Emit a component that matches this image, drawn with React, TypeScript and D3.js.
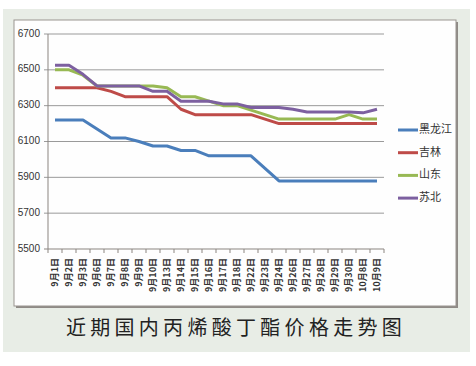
import React from 'react'
import * as d3 from 'd3'

const dates = ['9月1日', '9月2日', '9月3日', '9月6日', '9月7日', '9月8日', '9月9日', '9月10日', '9月13日', '9月14日', '9月15日', '9月16日', '9月17日', '9月18日', '9月22日', '9月23日', '9月24日', '9月26日', '9月27日', '9月28日', '9月29日', '9月30日', '10月8日', '10月9日']

const heilongjiang = [6220, 6220, 6220, 6170, 6120, 6120, 6100, 6075, 6075, 6050, 6050, 6020, 6020, 6020, 6020, 5950, 5880, 5880, 5880, 5880, 5880, 5880, 5880, 5880]
const jilin = [6400, 6400, 6400, 6400, 6380, 6350, 6350, 6350, 6350, 6280, 6250, 6250, 6250, 6250, 6250, 6225, 6200, 6200, 6200, 6200, 6200, 6200, 6200, 6200]
const shandong = [6500, 6500, 6470, 6410, 6410, 6410, 6410, 6410, 6400, 6350, 6350, 6325, 6300, 6300, 6275, 6250, 6225, 6225, 6225, 6225, 6225, 6250, 6225, 6225]
const subei = [6525, 6525, 6475, 6410, 6410, 6410, 6410, 6380, 6380, 6325, 6325, 6325, 6310, 6310, 6290, 6290, 6290, 6280, 6265, 6265, 6265, 6265, 6260, 6280]

const yTicks = [5500, 5700, 5900, 6100, 6300, 6500, 6700]

const series = [
  { name: '黑龙江', values: heilongjiang, color: '#4a7ebb' },
  { name: '吉林', values: jilin, color: '#be4b48' },
  { name: '山东', values: shandong, color: '#98b954' },
  { name: '苏北', values: subei, color: '#7d60a0' },
]

function App() {
  const width = 476
  const height = 366
  const plot = { left: 48, right: 384, top: 34, bottom: 249 }

  const xScale = d3.scaleBand().domain(dates).range([plot.left, plot.right])
  const yScale = d3.scaleLinear().domain([5500, 6700]).range([plot.bottom, plot.top])

  const line = d3
    .line<number>()
    .x((_, i) => xScale(dates[i])! + xScale.bandwidth() / 2)
    .y(d => yScale(d))

  const tickXs = dates.map(d => xScale(d)!).concat([plot.right])

  return (
    <svg width={width} height={height} style={{ position: 'absolute', left: 0, top: 0 }}>
      <rect x={3} y={9} width={467} height={343} fill="#e8ede6" />
      {/* chart frame with shadow on right and bottom */}
      <rect x={16} y={22} width={442} height={286} fill="#8f8a86" />
      <rect x={14} y={20} width={442} height={286} fill="#fefefe" stroke="#9a9590" strokeWidth={1} />

      {/* gridlines and y axis */}
      {yTicks.map(t => (
        <g key={t}>
          <line x1={plot.left - 4} x2={plot.right} y1={yScale(t)} y2={yScale(t)} stroke={t === 5500 ? '#8b8580' : '#9a9a9a'} strokeWidth={1} />
          <text x={40} y={yScale(t)} textAnchor="end" dominantBaseline="middle" fontFamily="'Liberation Sans', Arial, sans-serif" fontSize={10} fill="#333">{t}</text>
        </g>
      ))}
      <line x1={plot.left} x2={plot.left} y1={plot.top} y2={plot.bottom} stroke="#8b8580" strokeWidth={1} />

      {/* x ticks and labels */}
      {tickXs.map((x, i) => (
        <line key={i} x1={x} x2={x} y1={plot.bottom} y2={plot.bottom + 4} stroke="#8b8580" strokeWidth={1} />
      ))}
      {dates.map(d => (
        <text
          key={d}
          transform={`translate(${xScale(d)! + xScale.bandwidth() / 2 + 3} ${plot.bottom + 9}) rotate(-90)`}
          textAnchor="end"
          fontFamily="'Noto Sans CJK SC', sans-serif"
          fontSize={9}
          fontWeight="bold"
          fill="#333"
        >{d}</text>
      ))}

      {/* lines */}
      {series.map(s => (
        <path key={s.name} d={line(s.values) ?? ''} fill="none" stroke={s.color} strokeWidth={3} strokeLinejoin="round" />
      ))}

      {/* legend */}
      {series.map((s, i) => (
        <g key={s.name} transform={`translate(398 ${130 + i * 22.7})`}>
          <line x1={0} x2={20} y1={0} y2={0} stroke={s.color} strokeWidth={3} />
          <text x={21} y={0} dominantBaseline="middle" fontFamily="'Noto Sans CJK SC', sans-serif" fontSize={11} fill="#333">{s.name}</text>
        </g>
      ))}

      <text x={236} y={330} textAnchor="middle" dominantBaseline="middle" fontFamily="'Noto Sans CJK SC', sans-serif" fontSize={20} letterSpacing={4.3} fill="#222">近期国内丙烯酸丁酯价格走势图</text>
    </svg>
  )
}

export default App
